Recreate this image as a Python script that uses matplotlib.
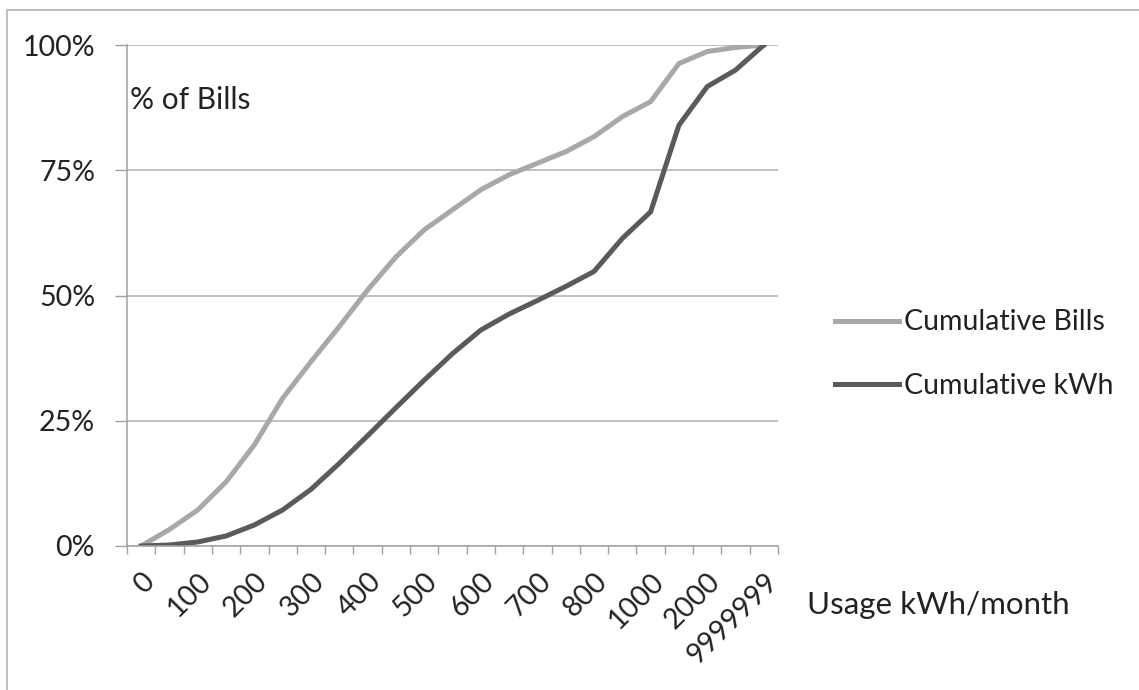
import matplotlib.pyplot as plt
from matplotlib.ticker import FixedLocator, FuncFormatter
from matplotlib.patches import Rectangle

# usage bins (kWh/month); Excel only labels every second one
usage = ['0', '50', '100', '150', '200', '250', '300', '350', '400', '450',
         '500', '550', '600', '650', '700', '750', '800', '900', '1000',
         '1500', '2000', '5000', '9999999']

# cumulative shares in percent
cum_bills = [0, 3.3, 7.2, 12.8, 20.2, 29.5, 36.8, 43.8, 51.1, 57.7, 63.1, 67.1,
             71.1, 74.1, 76.4, 78.7, 81.7, 85.7, 88.7, 96.3, 98.7, 99.5, 100]
cum_kwh = [0, 0.2, 0.8, 2.0, 4.2, 7.2, 11.3, 16.5, 22.0, 27.6, 33.1, 38.4,
           43.1, 46.3, 49.0, 51.8, 54.8, 61.4, 66.7, 84.0, 91.7, 95.0, 100]

y_ticks = [0, 25, 50, 75, 100]

plt.rcParams['font.family'] = ['Lato', 'DejaVu Sans']

fig = plt.figure(figsize=(11.39, 6.9), dpi=100)
ax = fig.add_axes([127 / 1139, 1 - 546 / 690, (778 - 127) / 1139, (546 - 45) / 690])

# light frame round the chart area (only left/top visible)
fig.patches.append(Rectangle((7 / 1139, -0.1), 1.2, 1 - 10 / 690 + 0.1,
                             transform=fig.transFigure, fill=False,
                             edgecolor='#b4b4b4', linewidth=1.2))

x = list(range(len(usage)))
ax.plot(x, cum_bills, color='#a8a8a8', linewidth=3.6, label='Cumulative Bills',
        solid_joinstyle='round')
ax.plot(x, cum_kwh, color='#5a5a5a', linewidth=3.6, label='Cumulative kWh',
        solid_joinstyle='round')

ax.set_xlim(-0.5, len(usage) - 0.5)
ax.set_ylim(0, 100)

# gridlines
for yv in y_ticks:
    ax.axhline(yv, color='#b0b0b0', linewidth=1.1, zorder=0)

ax.set_yticks(y_ticks)
ax.yaxis.set_major_formatter(FuncFormatter(lambda v, p: f'{int(v)}%'))
ax.tick_params(axis='y', length=9, width=1, color='#a0a0a0', direction='out',
               labelsize=20.5, labelcolor='#222222', pad=14)

ax.xaxis.set_major_locator(FixedLocator(x[::2]))
ax.set_xticklabels(usage[::2], rotation=45, ha='right', rotation_mode='anchor')
ax.xaxis.set_minor_locator(FixedLocator([i - 0.5 for i in range(len(usage) + 1)]))
ax.tick_params(axis='x', which='major', length=0, labelsize=20.5,
               labelcolor='#222222', pad=16)
ax.tick_params(axis='x', which='minor', length=6, width=1, color='#a0a0a0',
               direction='out')

for side in ['top', 'right']:
    ax.spines[side].set_visible(False)
ax.spines['left'].set_color('#a0a0a0')
ax.spines['bottom'].set_color('#a0a0a0')
ax.spines['left'].set_linewidth(1.1)
ax.spines['bottom'].set_linewidth(1.1)

fig.text(130 / 1139, 1 - 100 / 690, '% of Bills', fontsize=21.5, color='#222222',
         ha='left', va='center')
fig.text(807 / 1139, 1 - 605 / 690, 'Usage kWh/month', fontsize=22.5,
         color='#222222', ha='left', va='center')

fig.legend(loc='center left', bbox_to_anchor=(809 / 1139, 1 - 354 / 690),
           frameon=False, fontsize=20.5, handlelength=2.25, handletextpad=0.2,
           labelspacing=1.3, labelcolor='#222222')

fig.savefig('out.png', dpi=100)
